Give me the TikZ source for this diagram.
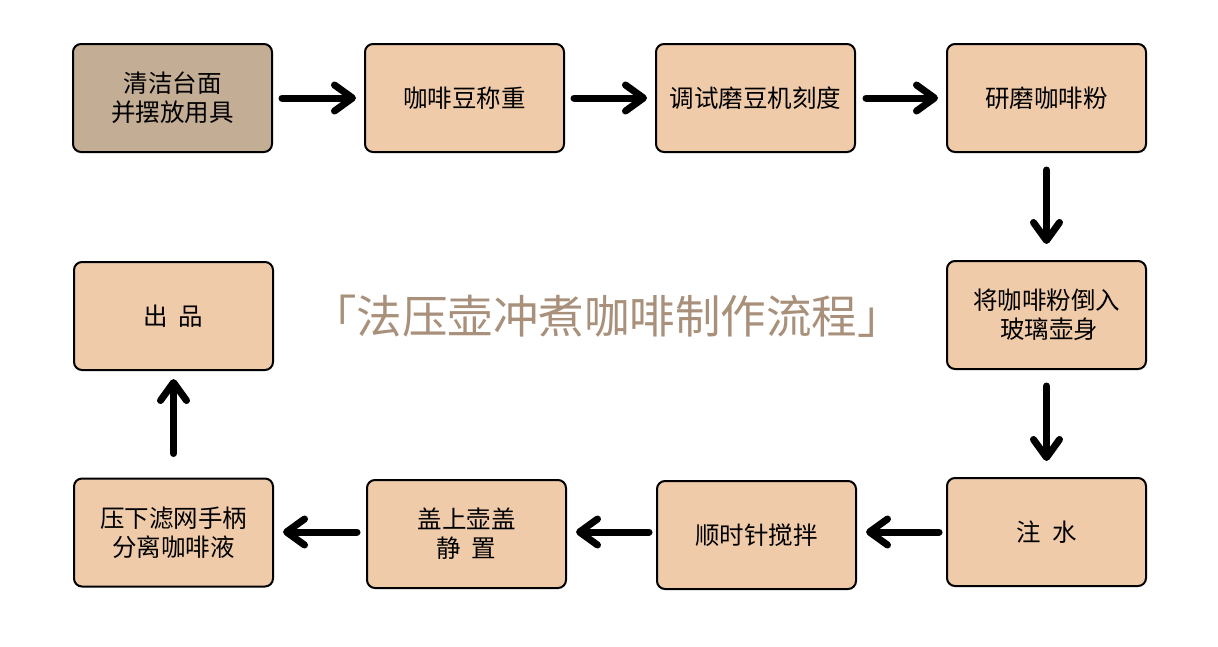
\documentclass[tikz,border=0pt]{standalone}
\usepackage{fontspec}
\newfontfamily\cjk{Noto Sans CJK SC}
\usetikzlibrary{arrows.meta}
\definecolor{boxfill}{HTML}{EFCBAA}
\definecolor{boxdark}{HTML}{C4AD95}
\definecolor{titlecol}{HTML}{A8907A}
\begin{document}
\begin{tikzpicture}[x=1pt,y=-1pt,
  stepbox/.style={draw=black, line width=2pt, rounded corners=8pt, fill=boxfill,
    minimum width=199pt, minimum height=108pt, inner sep=0pt, align=center,
    font=\cjk\fontsize{24.5}{29}\selectfont},
  flow/.style={line width=7pt, line cap=round,
    -{Straight Barb[length=18pt,width=26pt,round]}}]
\useasboundingbox (0,0) rectangle (1218,646);
\fill[white] (0,0) rectangle (1218,646);
\node[stepbox, fill=boxdark] (b1) at (172.5,98) {清洁台面\\并摆放用具};
\node[stepbox] (b2) at (464.5,98) {咖啡豆称重};
\node[stepbox] (b3) at (755.5,98) {调试磨豆机刻度};
\node[stepbox] (b4) at (1046.5,98) {研磨咖啡粉};
\node[stepbox] (b5) at (1046.5,315) {将咖啡粉倒入\\\ 玻璃壶身};
\node[stepbox] (b6) at (1046.5,532) {注\ \ 水};
\node[stepbox] (b7) at (756.5,535) {顺时针搅拌};
\node[stepbox] (b8) at (466.5,534) {盖上壶盖\\静\ \ 置};
\node[stepbox] (b9) at (173.5,532.5) {压下滤网手柄\\分离咖啡液};
\node[stepbox] (b10) at (173.5,316) {出\ \ 品};
\node[text=titlecol, font=\cjk\fontsize{45.5}{50}\selectfont] (title) at (607,316) {「法压壶冲煮咖啡制作流程」};
\draw[flow, shorten <=9pt, shorten >=8pt] (b1.east) -- (b2.west);
\draw[flow, shorten <=9pt, shorten >=8pt] (b2.east) -- (b3.west);
\draw[flow, shorten <=10pt, shorten >=8pt] (b3.east) -- (b4.west);
\draw[flow, shorten <=17pt, shorten >=16pt] (b4.south) -- (b5.north);
\draw[flow, shorten <=16pt, shorten >=16pt] (b5.south) -- (b6.north);
\draw[flow, shorten <=7pt, shorten >=9pt] (b6.west) -- (b6.west -| b7.east);
\draw[flow, shorten <=7pt, shorten >=9pt] (b7.west |- b6.west) -- (b8.east |- b6.west);
\draw[flow, shorten <=9pt, shorten >=9pt] (b8.west |- b6.west) -- (b9.east |- b6.west);
\draw[flow, shorten <=24pt, shorten >=8pt] (b9.north) -- (b10.south);
\end{tikzpicture}
\end{document}
